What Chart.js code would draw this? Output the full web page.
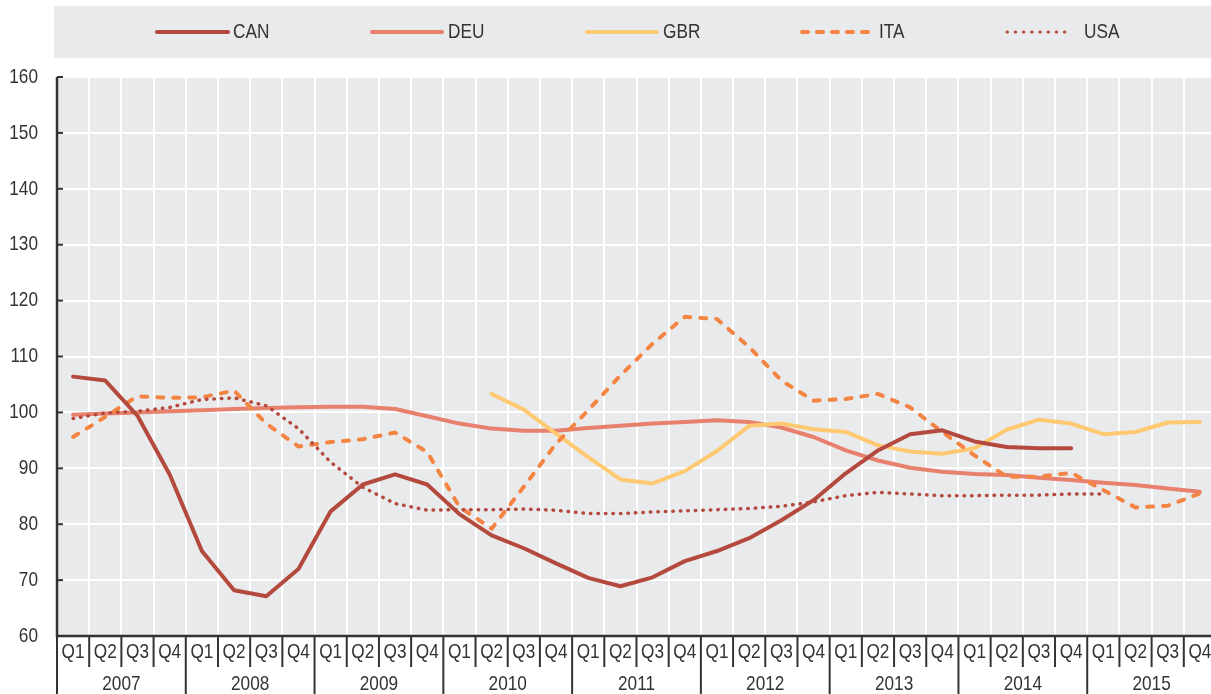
<!DOCTYPE html>
<html><head><meta charset="utf-8">
<script src="https://cdn.jsdelivr.net/npm/chart.js@4.4.0/dist/chart.umd.min.js"></script>
<style>
html,body{margin:0;padding:0;background:#fff;overflow:hidden;width:1211px;height:694px}
#wrap{position:absolute;left:0;top:0;width:1232px;height:694px}
</style>
</head><body>
<div id="wrap"><canvas id="c" width="1232" height="694"></canvas></div>
<script>
const years = ['2007','2008','2009','2010','2011','2012','2013','2014','2015'];
const quarters = ['Q1','Q2','Q3','Q4'];
const categories = years.flatMap(y => quarters.map(q => q + ' ' + y));

const CAN = [106.4,105.7,99.4,88.9, 75.2,68.2,67.1,72.0, 82.3,87.1,88.9,87.1, 81.8,78.0,75.7,73.0,
             70.4,68.9,70.5,73.4, 75.2,77.5,80.7,84.3, 89.1,93.2,96.1,96.8, 94.8,93.8,93.6,93.6,
             null,null,null,null];
const DEU = [99.6,99.8,100.0,100.2, 100.4,100.6,100.8,100.9, 101.0,101.0,100.6,99.3, 98.0,97.1,96.7,96.7,
             97.2,97.6,98.0,98.3, 98.6,98.3,97.3,95.6, 93.2,91.4,90.1,89.4, 89.0,88.8,88.3,87.9,
             87.4,87.0,86.4,85.8];
const GBR = [null,null,null,null, null,null,null,null, null,null,null,null, null,103.3,100.5,96.2,
             92.0,88.0,87.3,89.5, 93.1,97.6,98.0,97.0, 96.5,94.1,93.0,92.6, 93.6,96.9,98.7,98.0,
             96.1,96.5,98.2,98.3];
const ITA = [95.6,99.2,102.9,102.6, 102.7,103.9,98.0,93.9, 94.7,95.2,96.4,92.9, 83.1,79.2,86.7,94.4,
             100.4,106.6,112.3,117.1, 116.7,111.7,105.7,102.1, 102.4,103.3,100.9,96.5, 92.3,88.5,88.5,89.2,
             86.1,83.0,83.3,85.5];
const USA = [98.9,99.9,100.2,100.9, 102.3,102.6,101.2,97.1, 91.1,86.6,83.7,82.5, 82.6,82.6,82.7,82.5,
             81.9,81.9,82.2,82.4, 82.6,82.8,83.2,84.0, 85.1,85.7,85.4,85.1, 85.1,85.2,85.2,85.4,
             85.4,null,null,null];

const seriesNames = ['CAN','DEU','GBR','ITA','USA'];
const yMin = 60, yMax = 160, yStep = 10;

const FONT = "'Liberation Sans', Arial, sans-serif";
const NARROW = 0.82;
const TXT = '#333333';
const BG = '#E9EAEC';

const legendPos = [
  {x0:157, x1:228, tx:233},
  {x0:372, x1:442, tx:448},
  {x0:587, x1:657, tx:663},
  {x0:802, x1:873, tx:879},
  {x0:1007, x1:1072, tx:1084}
];

function narrowText(ctx, text, x, y, align, size) {
  ctx.save();
  ctx.translate(x, y);
  ctx.scale(NARROW, 1);
  ctx.font = size + 'px ' + FONT;
  ctx.textAlign = align;
  ctx.textBaseline = 'middle';
  ctx.fillStyle = TXT;
  ctx.fillText(text, 0, 0);
  ctx.restore();
}

const bgPlugin = {
  id: 'bg',
  beforeDraw(chart) {
    const {ctx, chartArea: a} = chart;
    ctx.save();
    ctx.fillStyle = BG;
    ctx.fillRect(a.left, a.top, a.right - a.left, a.bottom - a.top);
    ctx.fillRect(54, 6, chart.width - 54, 52);
    ctx.restore();
  },
  afterDraw(chart) {
    const {ctx, chartArea: a} = chart;
    const xs = chart.scales.x, ys = chart.scales.y;
    ctx.save();
    ctx.strokeStyle = '#333';
    ctx.lineWidth = 2.5;
    ctx.beginPath();
    ctx.moveTo(a.left, a.top); ctx.lineTo(a.left, a.bottom + 1);
    ctx.stroke();
    ctx.lineWidth = 2;
    for (let v = yMin; v <= yMax; v += yStep) {
      const y = ys.getPixelForValue(v);
      ctx.beginPath(); ctx.moveTo(a.left, y); ctx.lineTo(a.left + 6, y); ctx.stroke();
      narrowText(ctx, String(v), a.left - 19, y, 'right', 21);
    }
    ctx.lineWidth = 2.5;
    ctx.beginPath(); ctx.moveTo(a.left, a.bottom); ctx.lineTo(a.right, a.bottom); ctx.stroke();
    ctx.lineWidth = 2;
    const n = categories.length;
    for (let i = 0; i <= n; i++) {
      let bx;
      if (i === 0) bx = a.left;
      else if (i === n) bx = a.right;
      else bx = (xs.getPixelForValue(i - 1) + xs.getPixelForValue(i)) / 2;
      const yearB = (i % 4 === 0);
      ctx.beginPath();
      ctx.moveTo(bx, a.bottom);
      ctx.lineTo(bx, yearB ? chart.height : a.bottom + 31);
      ctx.stroke();
    }
    for (let i = 0; i < n; i++) {
      const x = xs.getPixelForValue(i);
      narrowText(ctx, categories[i].split(' ')[0], x, a.bottom + 16, 'center', 21);
    }
    years.forEach((yr, k) => {
      const x = (xs.getPixelForValue(k * 4) + xs.getPixelForValue(k * 4 + 3)) / 2;
      narrowText(ctx, yr, x, a.bottom + 48, 'center', 21);
    });
    chart.data.datasets.forEach((ds, k) => {
      const p = legendPos[k];
      const y = 32;
      ctx.strokeStyle = ds.borderColor;
      ctx.lineCap = 'round';
      if (ds.label === 'USA') {
        ctx.lineWidth = 3;
        ctx.setLineDash([0.5, 7.7]);
      } else if (ds.label === 'ITA') {
        ctx.lineWidth = 4;
        ctx.setLineDash([6, 9]);
      } else {
        ctx.lineWidth = 4;
        ctx.setLineDash([]);
      }
      ctx.beginPath(); ctx.moveTo(p.x0, y); ctx.lineTo(p.x1, y); ctx.stroke();
      ctx.setLineDash([]);
      narrowText(ctx, ds.label, p.tx, y, 'left', 21);
    });
    ctx.restore();
  }
};

const mk = (label, data, color, extra) => Object.assign({
  label, data, borderColor: color, backgroundColor: color,
  borderWidth: 4, pointRadius: 0, pointHoverRadius: 0, tension: 0,
  fill: false, spanGaps: false, borderCapStyle: 'round', borderJoinStyle: 'round'
}, extra || {});

new Chart(document.getElementById('c'), {
  type: 'line',
  data: {
    labels: categories,
    datasets: [
      mk(seriesNames[0], CAN, '#B44A3E', {order: 1}),
      mk(seriesNames[1], DEU, '#E8806E', {order: 4}),
      mk(seriesNames[2], GBR, '#FFC972', {order: 3}),
      mk(seriesNames[3], ITA, '#F48442', {order: 2, borderDash: [6, 10]}),
      mk(seriesNames[4], USA, '#B44A3E', {order: 0, borderWidth: 3.5, borderDash: [0.5, 7]})
    ]
  },
  options: {
    responsive: false,
    devicePixelRatio: 1,
    animation: false,
    events: [],
    layout: {padding: {top: 77, right: 16, bottom: 0, left: 0}},
    plugins: {legend: {display: false}, tooltip: {enabled: false}, title: {display: false}},
    scales: {
      x: {
        type: 'category',
        offset: true,
        grid: {color: '#ffffff', lineWidth: 2, drawTicks: false, offset: true},
        border: {display: false},
        ticks: {display: false},
        afterFit(s) { s.height = 58; }
      },
      y: {
        min: yMin, max: yMax,
        grid: {color: '#ffffff', lineWidth: 2, drawTicks: false},
        border: {display: false},
        ticks: {display: false, stepSize: yStep},
        afterFit(s) { s.width = 57; }
      }
    }
  },
  plugins: [bgPlugin]
});
</script>
</body></html>
